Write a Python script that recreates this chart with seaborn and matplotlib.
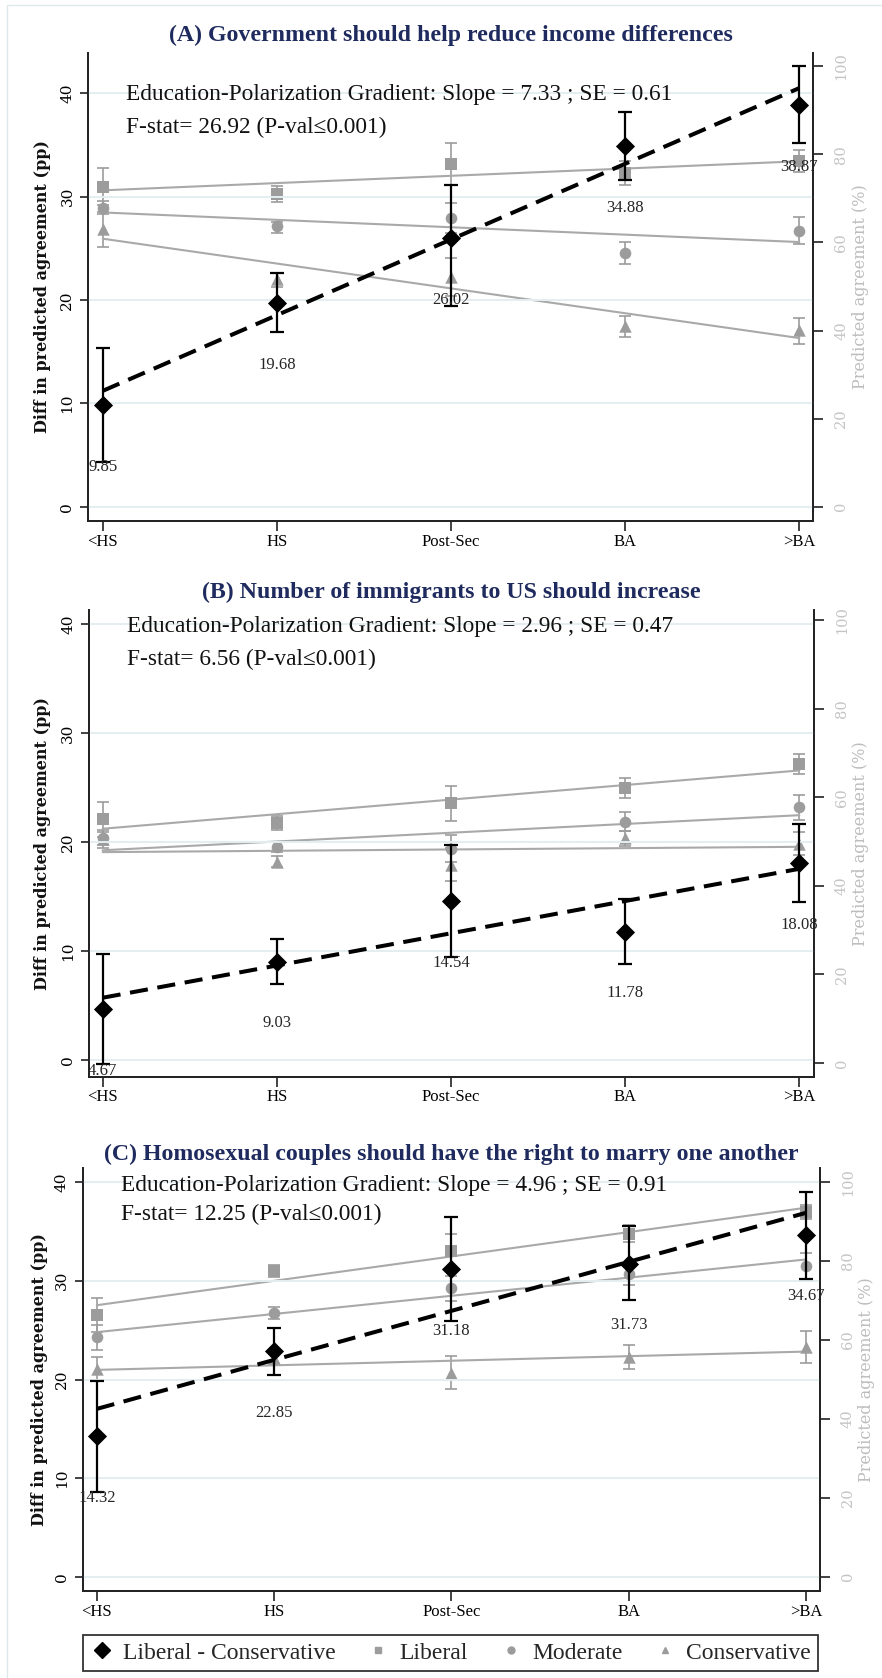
import numpy as np
import matplotlib
matplotlib.use("Agg")
import matplotlib.pyplot as plt
from matplotlib.lines import Line2D
from matplotlib.patches import Rectangle
import seaborn as sns

sns.set_style("white")
plt.rcParams["font.family"] = ["Liberation Serif", "DejaVu Serif"]

edu_levels = ["<HS", "HS", "Post-Sec", "BA", ">BA"]

titles = ["(A) Government should help reduce income differences",
          "(B) Number of immigrants to US should increase",
          "(C) Homosexual couples should have the right to marry one another"]
slopes = ["7.33", "2.96", "4.96"]
ses = ["0.61", "0.47", "0.91"]
fstats = ["26.92", "6.56", "12.25"]

# (A) income differences: diff in pp (left axis), group agreement in % (right axis)
a_diff = [9.85, 19.68, 26.02, 34.88, 38.87]
a_diff_lo = [4.3, 16.9, 19.4, 31.6, 35.2]
a_diff_hi = [15.4, 22.6, 31.1, 38.2, 42.6]
a_lib = [72.6, 71.0, 77.8, 75.7, 78.5]
a_lib_lo = [68.4, 69.1, 73.0, 73.0, 76.0]
a_lib_hi = [76.8, 72.9, 82.6, 78.4, 81.0]
a_mod = [67.9, 63.7, 65.5, 57.5, 62.6]
a_mod_lo = [66.4, 62.1, 62.1, 55.0, 59.6]
a_mod_hi = [69.4, 64.7, 68.9, 60.1, 65.8]
a_con = [63.0, 51.6, 52.1, 41.0, 40.1]
a_con_lo = [59.0, 49.9, 47.8, 38.6, 36.9]
a_con_hi = [67.0, 53.0, 56.4, 43.4, 42.9]

# (B) immigrants
b_diff = [4.67, 9.03, 14.54, 11.78, 18.08]
b_diff_lo = [-0.4, 6.95, 9.4, 8.8, 14.5]
b_diff_hi = [9.7, 11.1, 19.7, 14.8, 21.6]
b_lib = [55.0, 54.2, 58.6, 62.1, 67.5]
b_lib_lo = [51.0, 52.6, 54.6, 59.9, 65.2]
b_lib_hi = [59.0, 55.8, 62.6, 64.3, 69.8]
b_mod = [50.7, 48.7, 48.4, 54.5, 57.7]
b_mod_lo = [49.2, 47.6, 45.3, 52.4, 54.8]
b_mod_hi = [52.2, 49.8, 51.5, 56.6, 60.6]
b_con = [50.6, 45.5, 44.8, 50.7, 49.5]
b_con_lo = [48.6, 44.2, 41.0, 48.9, 46.9]
b_con_hi = [52.6, 46.8, 48.6, 52.5, 52.1]

# (C) same-sex marriage
c_diff = [14.32, 22.85, 31.18, 31.73, 34.67]
c_diff_lo = [8.65, 20.5, 25.9, 28.0, 30.2]
c_diff_hi = [19.85, 25.2, 36.4, 35.5, 39.0]
c_lib = [66.3, 77.4, 82.5, 86.9, 92.4]
c_lib_lo = [62.1, 75.9, 78.2, 84.8, 90.7]
c_lib_hi = [70.5, 78.9, 86.8, 89.0, 94.1]
c_mod = [60.6, 66.8, 73.0, 76.6, 78.7]
c_mod_lo = [57.4, 65.2, 69.9, 74.0, 75.5]
c_mod_hi = [63.8, 68.4, 76.1, 79.2, 81.9]
c_con = [52.6, 55.3, 51.7, 55.7, 58.2]
c_con_lo = [49.5, 53.9, 47.5, 52.7, 54.2]
c_con_hi = [55.7, 56.7, 55.9, 58.7, 62.2]

diffs = [(a_diff, a_diff_lo, a_diff_hi), (b_diff, b_diff_lo, b_diff_hi), (c_diff, c_diff_lo, c_diff_hi)]
groups = [
    [(a_lib, a_lib_lo, a_lib_hi, "s"), (a_mod, a_mod_lo, a_mod_hi, "o"), (a_con, a_con_lo, a_con_hi, "^")],
    [(b_lib, b_lib_lo, b_lib_hi, "s"), (b_mod, b_mod_lo, b_mod_hi, "o"), (b_con, b_con_lo, b_con_hi, "^")],
    [(c_lib, c_lib_lo, c_lib_hi, "s"), (c_mod, c_mod_lo, c_mod_hi, "o"), (c_con, c_con_lo, c_con_hi, "^")],
]

ax_rects = [[0.1001, 0.6895, 0.8220, 0.2791],
            [0.1012, 0.3582, 0.8217, 0.2783],
            [0.0938, 0.0518, 0.8359, 0.2519]]
left_lims = [(-1.38, 43.93), (-1.56, 41.28), (-1.39, 41.36)]
right_lims = [(-3.25, 103.07), (-3.14, 102.3), (-3.62, 103.4)]
x_lims = [(-0.083, 4.080), (-0.077, 4.084), (-0.079, 4.079)]
title_y = [35, 592, 1154]
stat_y = [(0.910, 0.841), (0.964, 0.893), (0.959, 0.890)]
lab_x = [(-0.0514, 1.053), (-0.0528, 1.052), (-0.047, 1.052)]

NAVY = "#1f2b5e"
GRAY = "#9c9c9c"
LGRAY = "#a9a9a9"
TGRAY = "#c4c4c4"
GRID = "#e4eef0"
TICKFONT = "DejaVu Serif"

x = np.arange(len(edu_levels))

fig = plt.figure(figsize=(8.82, 16.78), dpi=100)

# faint outline of the graph region (only left/top edges are visible in the crop)
fig.patches.append(Rectangle((7 / 882, -0.5), 2.0, 1.5 - 5 / 1678, transform=fig.transFigure,
                             fill=False, edgecolor="#dde8ec", lw=1.0))

for i in range(3):
    ax = fig.add_axes(ax_rects[i])
    ax2 = ax.twinx()
    ax.set_zorder(ax2.get_zorder() + 1)
    ax.patch.set_visible(False)

    # group predictions on right axis
    for vals, lo, hi, mk in groups[i]:
        vals, lo, hi = np.array(vals), np.array(lo), np.array(hi)
        ax2.errorbar(x, vals, yerr=[vals - lo, hi - vals], fmt="none", ecolor=GRAY,
                     elinewidth=1.2, capsize=4, capthick=1.2, zorder=2)
        sns.regplot(x=x, y=vals, ax=ax2, scatter=False, ci=None, truncate=True,
                    color=LGRAY, line_kws=dict(lw=1.5, zorder=3))
        sns.scatterplot(x=x, y=vals, ax=ax2, marker=mk, s=70 if mk != "^" else 80,
                        color=GRAY, edgecolor=GRAY, linewidth=0, zorder=4, legend=False)

    # liberal - conservative difference on left axis
    d, dlo, dhi = (np.array(v) for v in diffs[i])
    ax.errorbar(x, d, yerr=[d - dlo, dhi - d], fmt="none", ecolor="black",
                elinewidth=1.6, capsize=5, capthick=1.6, zorder=3)
    sns.regplot(x=x, y=d, ax=ax, scatter=False, ci=None, truncate=True, color="black",
                line_kws=dict(lw=2.9, dashes=(4.5, 2.4), zorder=4))
    sns.scatterplot(x=x, y=d, ax=ax, marker="D", s=95, color="black", edgecolor="black",
                    linewidth=0, zorder=5, legend=False)
    for xi, v in zip(x, d):
        ax.annotate(f"{v:.2f}", (xi, v), xytext=(0, -44.5), textcoords="offset points",
                    ha="center", va="center", fontsize=12, zorder=6)

    ax.set_xlim(*x_lims[i])
    ax.set_ylim(*left_lims[i])
    ax2.set_ylim(*right_lims[i])
    ax.set_yticks([0, 10, 20, 30, 40])
    ax2.set_yticks([0, 20, 40, 60, 80, 100])
    ax.set_xticks(x)
    ax.set_xticklabels(edu_levels, fontsize=12)
    ax.yaxis.grid(True, color=GRID, lw=1.4)
    ax.xaxis.grid(False)
    ax2.grid(False)

    for a in (ax, ax2):
        a.spines["top"].set_visible(False)
        for s in ("left", "right", "bottom"):
            a.spines[s].set_linewidth(1.3)
            a.spines[s].set_color("#222222")
    ax.tick_params(axis="x", length=7, width=1.2, pad=2, bottom=True, colors="#222222")
    ax.tick_params(axis="y", length=6, width=1.2, pad=4, left=True, colors="#222222")
    ax2.tick_params(axis="y", length=7, width=1.2, pad=8, right=True, color="#222222",
                    labelcolor=TGRAY)
    for t in ax.get_xticklabels():
        t.set_color("black")
    for t in ax.get_yticklabels():
        t.set_rotation(90)
        t.set_va("center")
        t.set_fontfamily(TICKFONT)
        t.set_fontsize(11)
        t.set_color("black")
    for t in ax2.get_yticklabels():
        t.set_rotation(90)
        t.set_va("center")
        t.set_fontfamily(TICKFONT)
        t.set_fontsize(10.5)

    ax.set_ylabel("Diff in predicted agreement (pp)", fontfamily=TICKFONT, fontsize=11.5,
                  fontweight="bold", color="#111111")
    ax.yaxis.set_label_coords(lab_x[i][0], 0.5)
    ax2.set_ylabel("Predicted agreement (%)", fontfamily=TICKFONT, fontsize=11.5,
                   color="#bdbdbd", rotation=90)
    ax2.yaxis.set_label_coords(lab_x[i][1], 0.5)

    ax.text(0.052, stat_y[i][0],
            f"Education-Polarization Gradient: Slope = {slopes[i]} ; SE = {ses[i]}",
            transform=ax.transAxes, fontsize=16.8, va="center", ha="left", color="#111111")
    ax.text(0.052, stat_y[i][1], f"F-stat= {fstats[i]} (P-val\u22640.001)",
            transform=ax.transAxes, fontsize=16.8, va="center", ha="left", color="#111111")

    fig.text(451 / 882, 1 - title_y[i] / 1678, titles[i], ha="center", va="center",
             fontsize=17.2, fontweight="bold", color=NAVY)

handles = [Line2D([], [], marker="D", color="black", ls="none", markersize=8),
           Line2D([], [], marker="s", color=GRAY, ls="none", markersize=5),
           Line2D([], [], marker="o", color=GRAY, ls="none", markersize=5),
           Line2D([], [], marker="^", color=GRAY, ls="none", markersize=5)]
labels = ["Liberal - Conservative", "Liberal", "Moderate", "Conservative"]
leg = fig.legend(handles, labels, loc="center", ncol=4, mode="expand",
                 bbox_to_anchor=(83 / 882, 1 - 1675 / 1678, 735 / 882, 44 / 1678),
                 frameon=True, fancybox=False, edgecolor="black", fontsize=17,
                 handlelength=1.0, handletextpad=0.4, borderaxespad=0, borderpad=0.3)
leg.get_frame().set_linewidth(1.3)

fig.savefig("out.png", dpi=100)
